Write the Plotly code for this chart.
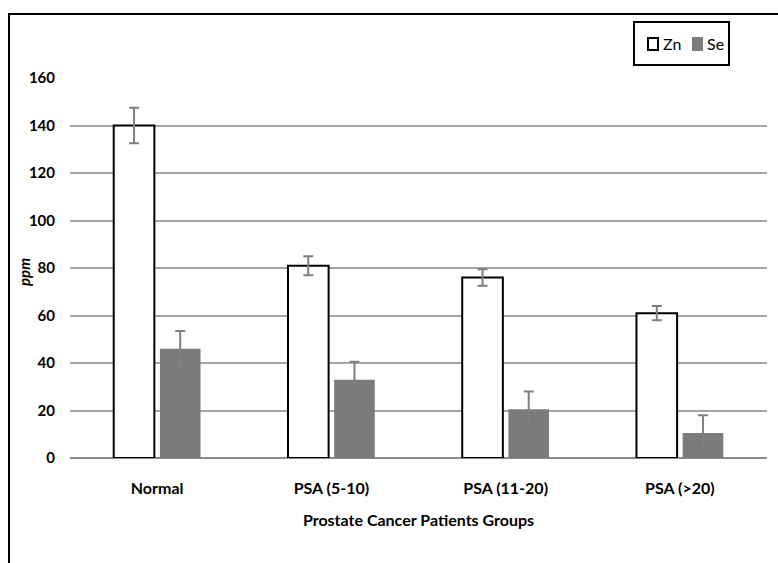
import plotly.graph_objects as go

categories = ["Normal", "PSA (5-10)", "PSA (11-20)", "PSA (>20)"]
series_names = ["Zn", "Se"]
zn_values = [140, 81, 76, 61]
zn_errors = [7.5, 4, 3.5, 3]
se_values = [46, 33, 20.5, 10.5]
se_errors = [7.5, 7.5, 7.5, 7.5]
y_ticks = [0, 20, 40, 60, 80, 100, 120, 140, 160]

FONT = "Lato"
GRAY = "#7f7f7f"
SE_FILL = "#7b7b7d"

fig = go.Figure()
fig.add_trace(go.Bar(
    name=series_names[0], x=categories, y=zn_values,
    marker=dict(color="white", line=dict(color="black", width=2)),
    error_y=dict(type="data", array=zn_errors, color=GRAY, thickness=2, width=5),
))
fig.add_trace(go.Bar(
    name=series_names[1], x=categories, y=se_values,
    marker=dict(color=SE_FILL, line=dict(width=0)),
    error_y=dict(type="data", array=se_errors, color=GRAY, thickness=2, width=5),
))

W, H = 778, 563
L, R, T, B = 70, 11, 78, 105
pw, ph = W - L - R, H - T - B

def px_x(v):
    return (v - L) / pw

def px_y(v):
    return (H - B - v) / ph

def prect(x0, y0, x1, y1, **kw):
    return dict(type="rect", xref="paper", yref="paper",
                x0=px_x(x0), x1=px_x(x1), y0=px_y(y1), y1=px_y(y0), **kw)

shapes = [
    # outer chart border (extends past the right/bottom edge as in the reference)
    prect(9, 14, 800, 600, line=dict(color="black", width=2),
          fillcolor="rgba(0,0,0,0)", layer="below"),
    # legend box
    prect(634, 22, 729, 65, line=dict(color="black", width=2), fillcolor="white"),
    # legend swatches
    prect(648, 38, 658, 50, line=dict(color="black", width=2), fillcolor="white"),
    prect(692, 37, 703, 51, line=dict(width=0), fillcolor=SE_FILL),
]

annotations = [
    dict(text=series_names[0], xref="paper", yref="paper", x=px_x(661), y=px_y(44),
         xanchor="left", yanchor="middle", showarrow=False,
         font=dict(family=FONT, size=16, color="black")),
    dict(text=series_names[1], xref="paper", yref="paper", x=px_x(705), y=px_y(44),
         xanchor="left", yanchor="middle", showarrow=False,
         font=dict(family=FONT, size=16, color="black")),
    dict(text="<i>ppm</i>", xref="paper", yref="paper", x=px_x(24), y=px_y(272),
         xanchor="center", yanchor="middle", textangle=-90, showarrow=False,
         font=dict(family=FONT, size=15, color="black", weight="bold")),
]

fig.update_layout(
    width=W, height=H,
    margin=dict(l=L, r=R, t=T, b=B),
    paper_bgcolor="white", plot_bgcolor="white",
    barmode="group", bargap=0.47, bargroupgap=0.12,
    font=dict(family=FONT, size=14, color="black"),
    showlegend=False,
    xaxis=dict(
        showgrid=False, showline=False, ticks="",
        tickfont=dict(family=FONT, size=16, color="black", weight="bold"),
        ticklabelstandoff=19,
        title=dict(text="Prostate Cancer Patients Groups",
                   font=dict(family=FONT, size=16, color="black", weight="bold"),
                   standoff=18),
    ),
    yaxis=dict(
        range=[0, 160], tickvals=y_ticks, showline=False, ticks="",
        gridcolor="#a6a6a6", gridwidth=2,
        zeroline=True, zerolinecolor="#8c8c8c", zerolinewidth=2,
        tickfont=dict(family=FONT, size=15, color="black", weight="bold"),
        ticklabelstandoff=14,
    ),
    shapes=shapes,
    annotations=annotations,
)

fig.write_html("out.html", config={"displayModeBar": False},
               post_script="document.body.style.margin='0';")
